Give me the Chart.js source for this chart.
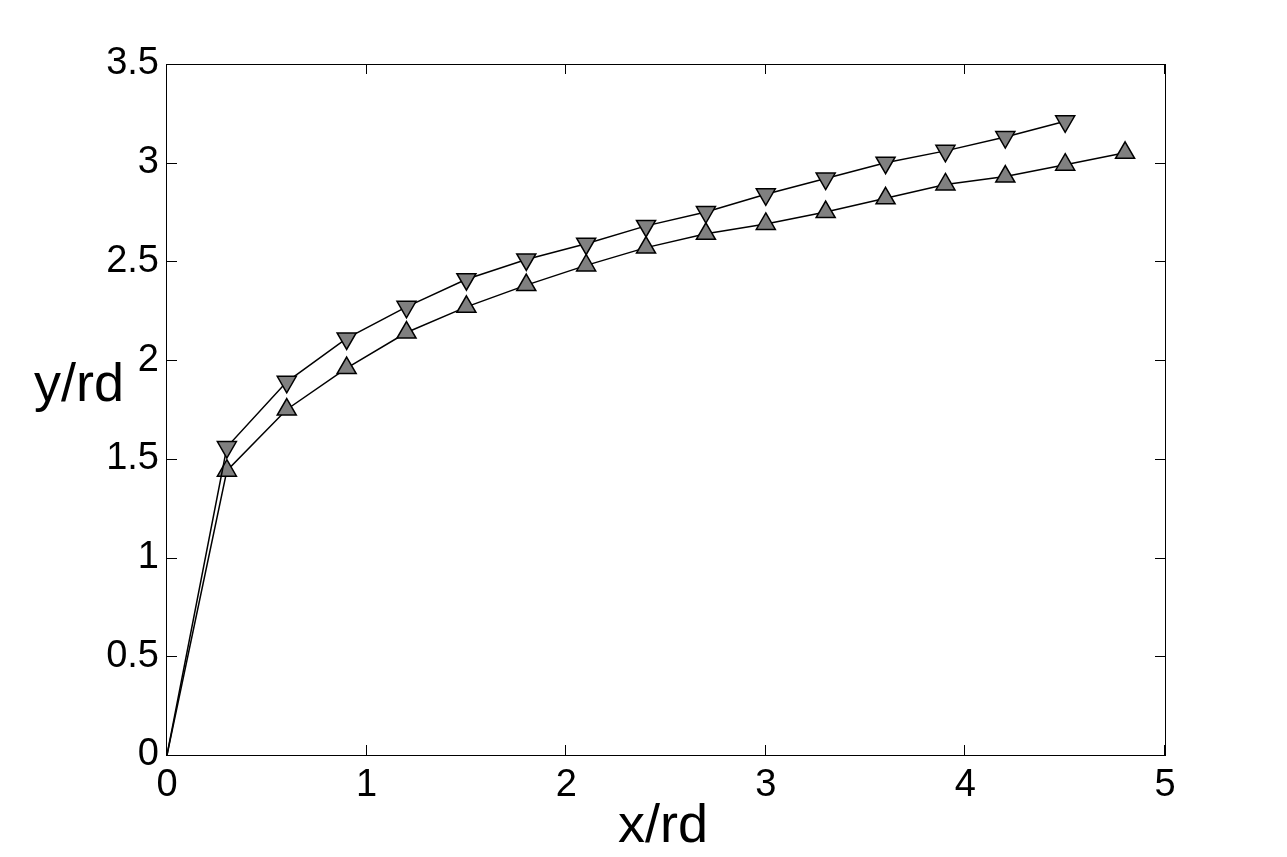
<!DOCTYPE html>
<html>
<head>
<meta charset="utf-8">
<script src="https://cdn.jsdelivr.net/npm/chart.js@4/dist/chart.umd.min.js"></script>
<style>
  html, body { margin: 0; padding: 0; background: #fff; }
  #wrap { width: 1287px; height: 857px; position: relative; }
</style>
</head>
<body>
<div id="wrap"><canvas id="chart"></canvas></div>
<script>
// x/rd positions and y/rd values
const xDown = [0, 0.3, 0.6, 0.9, 1.2, 1.5, 1.8, 2.1, 2.4, 2.7, 3.0, 3.3, 3.6, 3.9, 4.2, 4.5];
const yDown = [0, 1.56, 1.89, 2.11, 2.27, 2.41, 2.51, 2.59, 2.68, 2.75, 2.84, 2.92, 3.00, 3.06, 3.13, 3.21];

const xUp = [0, 0.3, 0.6, 0.9, 1.2, 1.5, 1.8, 2.1, 2.4, 2.7, 3.0, 3.3, 3.6, 3.9, 4.2, 4.5, 4.8];
const yUp = [0, 1.44, 1.75, 1.96, 2.14, 2.27, 2.38, 2.48, 2.57, 2.64, 2.69, 2.75, 2.82, 2.89, 2.93, 2.99, 3.05];

const xTicks = [0, 1, 2, 3, 4, 5];
const yTicks = [0, 0.5, 1, 1.5, 2, 2.5, 3, 3.5];

const FONT = '"Liberation Sans", Arial, sans-serif';

const toPoints = (xs, ys) => xs.map((x, i) => ({ x: x, y: ys[i] }));

// box with inward ticks on all four sides, plus horizontal axis titles
const framePlugin = {
    id: 'frame',
    beforeDatasetsDraw(chart) {
        const { ctx, chartArea: a, scales: { x, y } } = chart;
        ctx.save();
        ctx.strokeStyle = '#000';
        ctx.lineWidth = 1;
        ctx.strokeRect(a.left - 0.5, a.top + 0.5, a.right - a.left + 1, a.bottom - a.top);
        ctx.beginPath();
        x.ticks.forEach(t => {
            const px = Math.round(x.getPixelForValue(t.value)) - 0.5;
            ctx.moveTo(px, a.bottom); ctx.lineTo(px, a.bottom - 10);
            ctx.moveTo(px, a.top); ctx.lineTo(px, a.top + 10);
        });
        y.ticks.forEach(t => {
            const py = Math.round(y.getPixelForValue(t.value)) + 0.5;
            ctx.moveTo(a.left, py); ctx.lineTo(a.left + 10, py);
            ctx.moveTo(a.right, py); ctx.lineTo(a.right - 10, py);
        });
        ctx.stroke();

        ctx.fillStyle = '#000';
        ctx.font = '54px ' + FONT;
        ctx.textBaseline = 'alphabetic';
        ctx.textAlign = 'left';
        ctx.fillText('y/rd', 34, 401);
        ctx.textAlign = 'center';
        ctx.fillText('x/rd', (a.left + a.right) / 2 - 3, 842);
        ctx.restore();
    }
};

const ctx = document.getElementById('chart').getContext('2d');
new Chart(ctx, {
    type: 'scatter',
    data: {
        datasets: [{
            label: 'down',
            data: toPoints(xDown, yDown),
            showLine: true,
            borderColor: '#000',
            borderWidth: 1.5,
            backgroundColor: '#808080',
            pointStyle: 'triangle',
            pointRotation: 180,
            pointRadius: c => c.dataIndex === 0 ? 0 : 11,
            pointBorderColor: '#000',
            pointBorderWidth: 1.5,
            clip: false,
        }, {
            label: 'up',
            data: toPoints(xUp, yUp),
            showLine: true,
            borderColor: '#000',
            borderWidth: 1.5,
            backgroundColor: '#808080',
            pointStyle: 'triangle',
            pointRadius: c => c.dataIndex === 0 ? 0 : 11,
            pointBorderColor: '#000',
            pointBorderWidth: 1.5,
            clip: false,
        }],
    },
    options: {
        responsive: true,
        maintainAspectRatio: false,
        animation: false,
        layout: { padding: { left: 0, top: 64, right: 122, bottom: 0 } },
        plugins: {
            legend: { display: false },
            tooltip: { enabled: false },
        },
        scales: {
            x: {
                type: 'linear',
                min: 0,
                max: 5,
                afterBuildTicks: s => { s.ticks = xTicks.map(v => ({ value: v })); },
                afterFit: s => { s.height = 102; },
                grid: { display: false, drawTicks: false },
                border: { display: false },
                ticks: {
                    color: '#000',
                    font: { family: FONT, size: 38 },
                    padding: 8,
                    maxRotation: 0,
                    autoSkip: false,
                    callback: v => String(v),
                },
            },
            y: {
                type: 'linear',
                min: 0,
                max: 3.5,
                afterBuildTicks: s => { s.ticks = yTicks.map(v => ({ value: v })); },
                afterFit: s => { s.width = 167; },
                grid: { display: false, drawTicks: false },
                border: { display: false },
                ticks: {
                    color: '#000',
                    font: { family: FONT, size: 38 },
                    padding: 8,
                    autoSkip: false,
                    callback: v => String(v),
                },
            },
        },
    },
    plugins: [framePlugin],
});
</script>
</body>
</html>
